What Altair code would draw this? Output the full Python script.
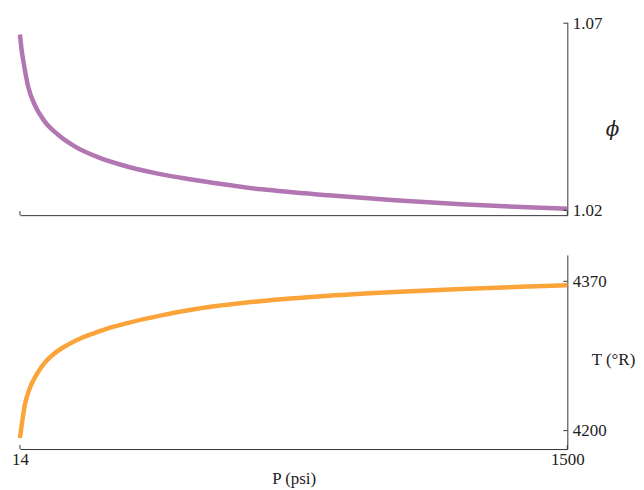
import altair as alt
import pandas as pd

# ---- data ----
P_phi = [14, 18.6, 22.9, 36.4, 54.5, 81.5, 117.5, 162.6, 225.5, 297.7, 378.7, 450.9, 540.9, 671, 852,
         1032, 1212, 1392, 1500]
phi = [1.0670, 1.0628, 1.0601, 1.0530, 1.0481, 1.0437, 1.0402, 1.0371, 1.0342, 1.0319, 1.0300, 1.0287,
       1.0273, 1.0256, 1.0240, 1.0227, 1.0216, 1.0208, 1.0204]

P_T = [14, 20.2, 27.5, 41, 59, 81.5, 108.6, 144.5, 180.7, 216.6, 257, 311, 401, 491, 671, 852,
       1032, 1212, 1392, 1500]
T = [4191.6, 4210.6, 4229.6, 4248.5, 4263.8, 4277.4, 4288.2, 4297.9, 4305.4, 4311.1, 4316.9, 4323.0,
     4331.5, 4338.4, 4347.6, 4353.6, 4357.9, 4361.3, 4364.0, 4365.5]

x_ticks = [14, 1500]
phi_ticks = [1.02, 1.07]
T_ticks = [4200, 4370]

FONT = "Liberation Serif"
AX = "#333333"
TXT = "#222222"
W = 550
H1 = 194
H2 = 195
TICK = 4

x_scale = alt.Scale(domain=[14, 1500], nice=False, zero=False)
phi_scale = alt.Scale(domain=[1.0187, 1.0703], nice=False, zero=False)
T_scale = alt.Scale(domain=[4179, 4400], nice=False, zero=False)

phi_df = pd.DataFrame({"P": P_phi, "phi": phi})
T_df = pd.DataFrame({"P": P_T, "T": T})
xt_df = pd.DataFrame({"P": x_ticks})
phit_df = pd.DataFrame({"phi": phi_ticks})
Tt_df = pd.DataFrame({"T": T_ticks})

common_axis = dict(grid=False, tickSize=0, domainColor=AX, domainWidth=1, labelFlush=False,
                   labelFont=FONT, labelFontSize=17, labelColor=TXT,
                   titleColor=TXT, titleFontWeight="normal")

x_axis_top = alt.Axis(values=x_ticks, labels=False, title=None, **common_axis)
x_axis_bot = alt.Axis(values=x_ticks, format="d", title="P (psi)", labelPadding=3, titlePadding=3,
                      titleFont=FONT, titleFontSize=17, **common_axis)
phi_axis = alt.Axis(orient="right", values=phi_ticks, format=".2f", title="ϕ", titleAngle=0,
                    titleAlign="left", titleBaseline="middle", titleX=38, titleY=108,
                    titleFont="DejaVu Serif", titleFontStyle="italic", titleFontSize=20,
                    labelPadding=5, **common_axis)
T_axis = alt.Axis(orient="right", values=T_ticks, format="d", title="T (°R)", titleAngle=0,
                  titleAlign="left", titleBaseline="middle", titleX=24, titleY=105,
                  titleFont=FONT, titleFontSize=17, labelPadding=5, **common_axis)

# ---- top panel ----
top_line = alt.Chart(phi_df).mark_line(color="#B276B2", strokeWidth=4.5, interpolate="monotone").encode(
    x=alt.X("P:Q", scale=x_scale, axis=x_axis_top),
    y=alt.Y("phi:Q", scale=phi_scale, axis=phi_axis),
)
top_xt = alt.Chart(xt_df).mark_rule(color=AX, strokeWidth=1).encode(
    x=alt.X("P:Q", scale=x_scale, axis=x_axis_top),
    y=alt.value(H1), y2=alt.value(H1 - TICK),
)
top_yt = alt.Chart(phit_df).mark_rule(color=AX, strokeWidth=1).encode(
    y=alt.Y("phi:Q", scale=phi_scale, axis=phi_axis),
    x=alt.value(W), x2=alt.value(W - TICK),
)
top = alt.layer(top_line, top_xt, top_yt).properties(width=W, height=H1)

# ---- bottom panel ----
bot_line = alt.Chart(T_df).mark_line(color="#FAA43A", strokeWidth=4.5, interpolate="monotone").encode(
    x=alt.X("P:Q", scale=x_scale, axis=x_axis_bot),
    y=alt.Y("T:Q", scale=T_scale, axis=T_axis),
)
bot_xt = alt.Chart(xt_df).mark_rule(color=AX, strokeWidth=1).encode(
    x=alt.X("P:Q", scale=x_scale, axis=x_axis_bot),
    y=alt.value(H2), y2=alt.value(H2 - TICK),
)
bot_yt = alt.Chart(Tt_df).mark_rule(color=AX, strokeWidth=1).encode(
    y=alt.Y("T:Q", scale=T_scale, axis=T_axis),
    x=alt.value(W), x2=alt.value(W - TICK),
)
bottom = alt.layer(bot_line, bot_xt, bot_yt).properties(width=W, height=H2)

chart = alt.vconcat(top, bottom, spacing=36).properties(
    padding={"left": 3, "top": 5, "right": 0, "bottom": 0},
    background="white",
).configure_view(stroke=None)

chart.save("out.html", embed_options={"renderer": "svg", "actions": False})
